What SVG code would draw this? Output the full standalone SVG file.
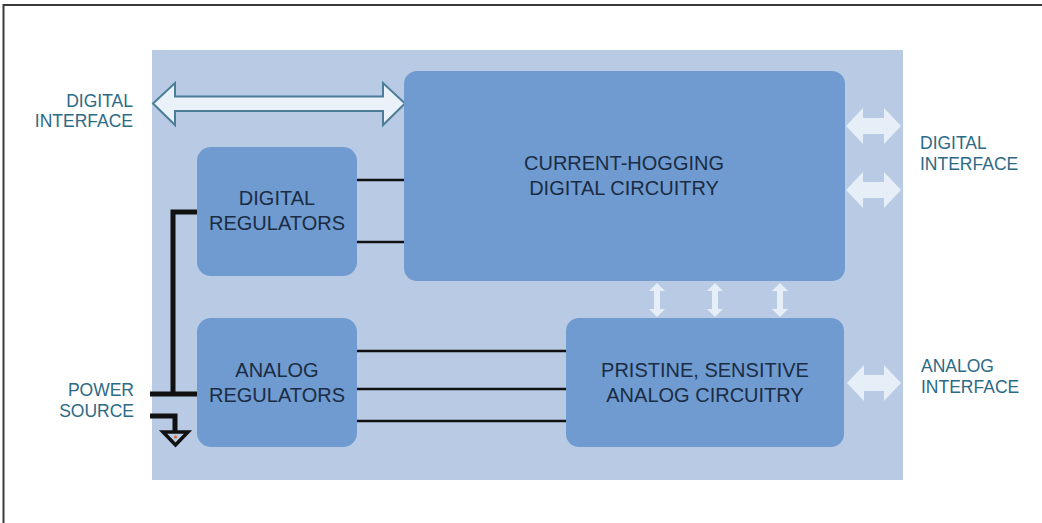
<svg xmlns="http://www.w3.org/2000/svg" width="1042" height="523" viewBox="0 0 1042 523">
<style>
.box{fill:#6f9bd0;}
.lbl{font-family:"Liberation Sans",Arial,sans-serif;font-size:20px;fill:#1b2c44;text-anchor:middle;}
.side{font-family:"Liberation Sans",Arial,sans-serif;font-size:17.5px;fill:#2c6a86;}
.wire{stroke:#111;stroke-width:2.5;fill:none;}
.pwr{stroke:#111;stroke-width:5;fill:none;}
.warr{fill:#e6eef8;}
</style>
<rect x="0" y="0" width="1042" height="523" fill="#ffffff"/>
<path d="M3.5 523 V5 H1042" fill="none" stroke="#3a3a3a" stroke-width="2"/>
<rect id="panel" x="152" y="50" width="751" height="430" fill="#b9cbe4"/>

<g id="connectors">
  <path class="wire" d="M357 180 H404 M357 242 H404"/>
  <path class="wire" d="M357 351 H566 M357 389 H566 M357 421 H566"/>
  <path class="pwr" d="M197 212 H173 V394 M150 394 H197"/>
  <path class="pwr" stroke-width="4" d="M150 416 H175 V432"/>
  <path d="M163 432 H188 L175.5 445 Z" fill="none" stroke="#111" stroke-width="3.5" stroke-linejoin="miter"/>
  <circle cx="175.5" cy="437" r="1.6" fill="#d9703a"/>
  <path d="M153 103.5 L175 83 V96.5 H383 V83 L405 103.5 L383 125 V111 H175 V125 Z" fill="#eaf1f9" stroke="#4b7d99" stroke-width="2" stroke-linejoin="miter"/>
  <path class="warr" d="M846 126 L863 108 V118 H884 V108 L901 126 L884 144 V134 H863 V144 Z"/>
  <path class="warr" d="M846 190 L863 172 V182 H884 V172 L901 190 L884 208 V198 H863 V208 Z"/>
  <path class="warr" d="M847 383 L864 365 V375 H884 V365 L901 383 L884 401 V391 H864 V401 Z"/>
  <path class="warr" d="M657 283 L665 291 H660 V309 H665 L657 317 L649 309 H654 V291 H649 Z"/>
  <path class="warr" d="M715 283 L723 291 H718 V309 H723 L715 317 L707 309 H712 V291 H707 Z"/>
  <path class="warr" d="M780 283 L788 291 H783 V309 H788 L780 317 L772 309 H777 V291 H772 Z"/>
</g>

<g id="current-hogging">
  <rect class="box" x="404" y="71" width="441" height="210" rx="13"/>
  <text class="lbl" x="624" y="170">CURRENT-HOGGING</text>
  <text class="lbl" x="624" y="195">DIGITAL CIRCUITRY</text>
</g>
<g id="digital-regulators">
  <rect class="box" x="197" y="147" width="160" height="129" rx="14"/>
  <text class="lbl" x="277" y="205">DIGITAL</text>
  <text class="lbl" x="277" y="230">REGULATORS</text>
</g>
<g id="analog-regulators">
  <rect class="box" x="197" y="318" width="160" height="129" rx="14"/>
  <text class="lbl" x="277" y="377">ANALOG</text>
  <text class="lbl" x="277" y="402">REGULATORS</text>
</g>
<g id="pristine">
  <rect class="box" x="566" y="318" width="278" height="129" rx="13"/>
  <text class="lbl" x="705" y="377">PRISTINE, SENSITIVE</text>
  <text class="lbl" x="705" y="402">ANALOG CIRCUITRY</text>
</g>

<g id="labels">
  <text class="side" x="133" y="107" text-anchor="end">DIGITAL</text>
  <text class="side" x="133" y="127" text-anchor="end">INTERFACE</text>
  <text class="side" x="920" y="149">DIGITAL</text>
  <text class="side" x="920" y="170">INTERFACE</text>
  <text class="side" x="921" y="372">ANALOG</text>
  <text class="side" x="921" y="393">INTERFACE</text>
  <text class="side" x="134" y="396" text-anchor="end">POWER</text>
  <text class="side" x="134" y="417" text-anchor="end">SOURCE</text>
</g>
</svg>
